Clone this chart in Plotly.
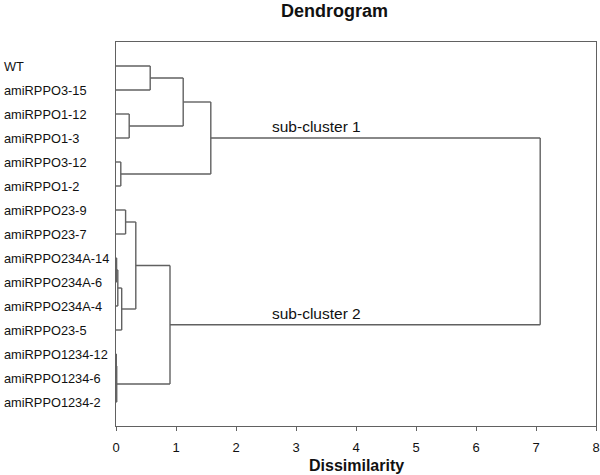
import plotly.graph_objects as go

# Leaves (top to bottom)
leaf_labels = [
    "WT", "amiRPPO3-15", "amiRPPO1-12", "amiRPPO1-3", "amiRPPO3-12", "amiRPPO1-2",
    "amiRPPO23-9", "amiRPPO23-7", "amiRPPO234A-14", "amiRPPO234A-6", "amiRPPO234A-4",
    "amiRPPO23-5", "amiRPPO1234-12", "amiRPPO1234-6", "amiRPPO1234-2",
]
# Linkage: (child a, child b, dissimilarity); new nodes numbered from len(leaf_labels)
merge_a = [0, 2, 15, 4, 17, 6, 8, 21, 22, 20, 12, 25, 24, 19]
merge_b = [1, 3, 16, 5, 18, 7, 9, 10, 11, 23, 13, 14, 26, 27]
merge_h = [0.57, 0.22, 1.12, 0.08, 1.58, 0.16, 0.01, 0.03, 0.095, 0.33, 0.005, 0.012, 0.90, 7.07]
cluster_names = ["sub-cluster 1", "sub-cluster 2"]
x_ticks = [0, 1, 2, 3, 4, 5, 6, 7, 8]

n = len(leaf_labels)
node_x = {i: 0.0 for i in range(n)}
node_y = {i: float(i + 1) for i in range(n)}
xs, ys = [], []
for k, (a, b, h) in enumerate(zip(merge_a, merge_b, merge_h)):
    nid = n + k
    for c in (a, b):
        xs += [node_x[c], h, None]
        ys += [node_y[c], node_y[c], None]
    xs += [h, h, None]
    ys += [node_y[a], node_y[b], None]
    node_x[nid] = h
    node_y[nid] = (node_y[a] + node_y[b]) / 2

line_col = "#616161"
fig = go.Figure()
fig.add_trace(go.Scatter(x=xs, y=ys, mode="lines", line=dict(color=line_col, width=1.4),
                         hoverinfo="skip", showlegend=False))

annotations = []
for i, lab in enumerate(leaf_labels):
    annotations.append(dict(text=lab, xref="paper", yref="y", x=(2 - 116) / 480, y=node_y[i],
                            xanchor="left", yanchor="middle", showarrow=False,
                            font=dict(family="Liberation Sans, Arial", size=12.8, color="#111")))
for name, child in zip(cluster_names, (merge_a[-1], merge_b[-1])):
    annotations.append(dict(text=name, xref="x", yref="y", x=3.345, y=node_y[child],
                            xanchor="center", yanchor="bottom", showarrow=False, yshift=1,
                            font=dict(family="Liberation Sans, Arial", size=15.5, color="#111")))
annotations.append(dict(text="<b>Dissimilarity</b>", xref="paper", yref="paper",
                        x=(356 - 116) / 480, y=1 - (465 - 42) / 384, xanchor="center", yanchor="middle",
                        showarrow=False, font=dict(family="Liberation Sans, Arial", size=16, color="#111")))

fig.update_layout(
    width=600, height=475,
    margin=dict(l=116, r=4, t=42, b=49, autoexpand=False),
    paper_bgcolor="white", plot_bgcolor="white",
    title=dict(text="<b>Dendrogram</b>", x=334.5 / 600, y=1 - 11 / 475, xanchor="center", yanchor="middle",
               font=dict(family="Liberation Sans, Arial", size=18, color="#111")),
    xaxis=dict(range=[0, 8], tickvals=x_ticks, ticktext=[str(t) for t in x_ticks], automargin=False,
               showgrid=False, zeroline=False, showline=True, linecolor=line_col, linewidth=1.4,
               mirror=True, ticks="outside", ticklen=4, tickcolor=line_col, tickwidth=1.2,
               ticklabelstandoff=5,
               tickfont=dict(family="Liberation Sans, Arial", size=13, color="#111")),
    yaxis=dict(range=[16, 0], showgrid=False, zeroline=False, showline=True, linecolor=line_col,
               linewidth=1.4, mirror=True, showticklabels=False, ticks="", automargin=False),
    annotations=annotations,
)
fig.write_html("out.html", config={"displayModeBar": False},
               post_script="document.body.style.margin='0';")
